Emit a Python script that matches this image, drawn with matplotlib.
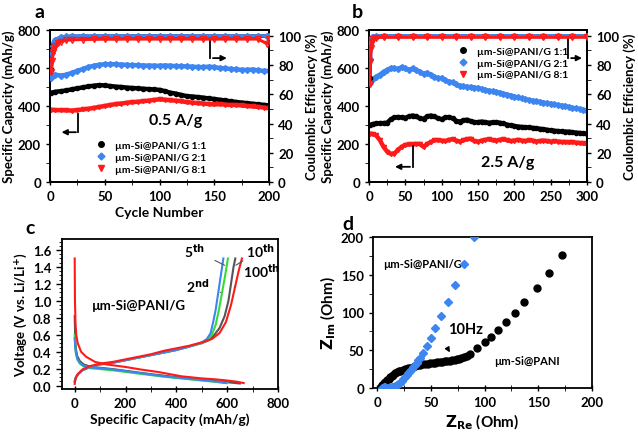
import matplotlib
matplotlib.use("Agg")
import matplotlib.pyplot as plt
from matplotlib.ticker import MultipleLocator
from matplotlib.lines import Line2D

plt.rcParams['font.family'] = ['Lato', 'DejaVu Sans']
plt.rcParams['font.weight'] = 'bold'
plt.rcParams['axes.labelweight'] = 'bold'
plt.rcParams['mathtext.default'] = 'bf'

BLACK = '#000000'
BLUE = '#3d85f0'
RED = '#ff1a1a'
GREEN = '#33dd33'
GRAY = '#555555'

# ---------------- Panel a data (0.5 A/g) ----------------
cycles_a = [1, 5, 10, 15, 20, 25, 30, 35, 40, 45, 50, 55, 60, 65, 70, 75, 80, 85, 90, 95, 100,
            105, 110, 115, 120, 125, 130, 135, 140, 145, 150, 155, 160, 165, 170, 175, 180, 185, 190, 195, 200]
cap_a_11 = [470, 475, 478, 482, 488, 493, 498, 503, 507, 510, 508, 505, 502, 500, 497, 495, 493, 491, 489, 487, 485,
            478, 470, 465, 458, 452, 450, 447, 444, 440, 437, 433, 429, 425, 421, 418, 415, 412, 409, 406, 403]
cap_a_21 = [560, 565, 560, 565, 575, 585, 595, 605, 612, 617, 620, 620, 620, 618, 617, 615, 615, 613, 613, 612, 612,
            613, 612, 610, 610, 608, 607, 605, 605, 607, 605, 600, 598, 595, 593, 590, 590, 592, 588, 585, 585]
cap_a_81 = [380, 378, 378, 377, 376, 378, 382, 385, 390, 395, 400, 405, 410, 413, 417, 420, 422, 425, 428, 432, 435,
            433, 430, 428, 425, 420, 418, 415, 413, 410, 408, 410, 407, 405, 405, 403, 400, 398, 395, 392, 388]
ce_cyc_a = [1, 2, 3, 4, 5, 7, 10, 15, 20, 30, 40, 50, 60, 70, 80, 90, 100, 110, 120, 130, 140, 150, 160, 170, 180, 190, 198, 200]
ce_a_11 = [77, 90, 94, 96, 97, 98, 99, 99.5, 99.6, 99.7, 99.7, 99.8, 99.8, 99.8, 99.8, 99.8, 99.8, 99.8, 99.8, 99.8, 99.8, 99.8, 99.8, 99.8, 99.8, 99.8, 99.8, 99.8]
ce_a_21 = [71, 88, 93, 96, 97, 98, 99, 99.6, 99.8, 99.9, 99.9, 99.9, 99.9, 99.9, 99.9, 99.9, 99.9, 99.9, 99.9, 99.9, 99.9, 99.9, 99.9, 99.9, 99.9, 99.9, 99.9, 99.9]
ce_a_81 = [75, 83, 89, 91, 93, 95, 96, 97, 97.3, 97.5, 97.6, 97.7, 97.7, 97.8, 97.8, 97.8, 97.8, 97.8, 97.8, 97.8, 97.8, 97.8, 97.8, 97.8, 97.8, 97.8, 94.7, 97.8]

# ---------------- Panel b data (2.5 A/g) ----------------
cycles_b = [1, 5, 10, 15, 20, 25, 30, 35, 40, 45, 50, 55, 60, 65, 70, 75, 80, 85, 90, 95, 100,
            105, 110, 115, 120, 125, 130, 135, 140, 145, 150, 155, 160, 165, 170, 175, 180, 185, 190, 195, 200,
            205, 210, 215, 220, 225, 230, 235, 240, 245, 250, 255, 260, 265, 270, 275, 280, 285, 290, 295, 300]
cap_b_11 = [300, 305, 308, 310, 310, 312, 330, 340, 342, 340, 338, 345, 350, 345, 335, 332, 345, 350, 345, 335, 330,
            340, 342, 335, 322, 318, 325, 328, 320, 315, 315, 318, 315, 312, 314, 315, 312, 308, 302, 298, 295,
            292, 290, 288, 287, 285, 283, 280, 278, 275, 272, 270, 268, 266, 265, 265, 262, 260, 258, 256, 255]
cap_b_21 = [520, 540, 555, 565, 580, 590, 600, 600, 595, 605, 598, 590, 598, 590, 580, 570, 575, 565, 555, 545, 548,
            535, 528, 525, 515, 505, 505, 500, 500, 497, 495, 490, 485, 480, 478, 475, 470, 465, 460, 455, 450,
            445, 440, 435, 432, 428, 425, 422, 418, 415, 412, 408, 405, 402, 400, 395, 390, 387, 384, 380, 376]
cap_b_81 = [255, 252, 245, 220, 185, 160, 148, 150, 170, 185, 195, 198, 198, 200, 200, 185, 200, 210, 220, 220, 218,
            215, 222, 225, 218, 212, 220, 225, 228, 215, 212, 218, 222, 225, 220, 218, 222, 225, 220, 215, 218,
            222, 218, 215, 220, 218, 213, 215, 218, 215, 212, 215, 213, 210, 210, 208, 210, 207, 205, 203, 200]
ce_cyc_b = [1, 2, 3, 4, 6, 10, 20, 40, 60, 80, 100, 120, 140, 160, 180, 200, 220, 240, 260, 280, 300]
ce_b_11 = [71, 92, 96, 98, 99, 99.5, 99.6, 99.7, 99.7, 99.7, 99.7, 99.7, 99.7, 99.7, 99.7, 99.7, 99.7, 99.7, 99.7, 99.7, 99.7]
ce_b_21 = [96, 84, 97, 99, 99.5, 100, 100, 100, 100, 100, 100, 100, 100, 100, 100, 100, 100, 100, 100, 100, 100]
ce_b_81 = [67, 82, 92, 96, 98, 98.8, 99, 99, 99, 99, 99, 99, 99, 99, 99, 99, 99, 99, 99, 99, 99]

# ---------------- Panel c data (voltage profiles) ----------------
dis_q_2 = [0, 2, 5, 10, 20, 35, 60, 100, 150, 200, 250, 300, 350, 400, 450, 500, 550, 595]
dis_v_2 = [0.56, 0.45, 0.38, 0.32, 0.27, 0.235, 0.215, 0.205, 0.19, 0.17, 0.15, 0.13, 0.11, 0.095, 0.08, 0.065, 0.05, 0.03]
chg_q_2 = [0, 5, 15, 30, 60, 100, 150, 200, 250, 300, 350, 400, 450, 500, 520, 535, 545, 555, 565, 575, 585]
chg_v_2 = [0.05, 0.1, 0.14, 0.18, 0.22, 0.25, 0.27, 0.3, 0.33, 0.36, 0.39, 0.42, 0.46, 0.51, 0.55, 0.62, 0.75, 0.9, 1.1, 1.3, 1.5]

dis_q_5 = [0, 2, 5, 10, 20, 35, 60, 100, 150, 200, 250, 300, 350, 400, 450, 500, 550, 600]
dis_v_5 = [0.6, 0.46, 0.38, 0.31, 0.26, 0.225, 0.205, 0.195, 0.18, 0.162, 0.142, 0.124, 0.105, 0.09, 0.075, 0.06, 0.045, 0.03]
chg_q_5 = [0, 5, 15, 30, 60, 100, 150, 200, 250, 300, 350, 400, 450, 500, 520, 540, 555, 568, 580, 592, 603]
chg_v_5 = [0.05, 0.1, 0.14, 0.18, 0.22, 0.25, 0.27, 0.3, 0.33, 0.36, 0.39, 0.42, 0.46, 0.505, 0.535, 0.6, 0.72, 0.9, 1.1, 1.3, 1.5]

dis_q_10 = [0, 2, 5, 10, 20, 35, 60, 100, 150, 200, 250, 300, 350, 400, 450, 500, 550, 600, 650]
dis_v_10 = [0.82, 0.55, 0.43, 0.35, 0.29, 0.25, 0.225, 0.21, 0.195, 0.175, 0.155, 0.135, 0.118, 0.1, 0.085, 0.07, 0.055, 0.04, 0.025]
chg_q_10 = [0, 5, 15, 30, 60, 100, 150, 200, 250, 300, 350, 400, 450, 500, 530, 550, 570, 590, 605, 615, 625, 632]
chg_v_10 = [0.05, 0.1, 0.14, 0.18, 0.22, 0.25, 0.27, 0.3, 0.33, 0.36, 0.39, 0.42, 0.46, 0.5, 0.54, 0.6, 0.68, 0.82, 1.0, 1.2, 1.4, 1.5]

dis_q_100 = [0, 1, 3, 6, 12, 25, 45, 80, 125, 200, 260, 330, 420, 500, 550, 600, 640, 665]
dis_v_100 = [1.5, 1.0, 0.75, 0.6, 0.5, 0.4, 0.34, 0.28, 0.25, 0.22, 0.19, 0.16, 0.11, 0.085, 0.075, 0.06, 0.045, 0.03]
chg_q_100 = [0, 3, 10, 30, 60, 100, 150, 200, 250, 300, 350, 400, 450, 500, 540, 570, 595, 615, 630, 645, 658]
chg_v_100 = [0.02, 0.08, 0.13, 0.19, 0.23, 0.26, 0.28, 0.31, 0.34, 0.37, 0.41, 0.44, 0.47, 0.51, 0.55, 0.62, 0.75, 0.95, 1.15, 1.35, 1.5]

# ---------------- Panel d data (Nyquist) ----------------
zre_pani = [3.4, 4.5, 6, 7.5, 9, 10.5, 12, 13.5, 15, 16.6, 18.2, 19.8, 21.3, 23.5, 25.9, 28.2, 30.6, 33, 35, 37.5,
            39.8, 42, 44.4, 46.8, 49, 51.5, 53.7, 56, 58.3, 60.7, 63, 65.3, 67.6, 70, 72, 74, 76, 78, 80.5, 83.5,
            86.7, 93, 100, 105.5, 112.3, 120, 128.4, 136.4, 148.8, 160.2, 172.5]
zim_pani = [1, 3.5, 6, 8.3, 10.6, 12.4, 14, 15.9, 17.7, 19.3, 20.8, 22, 23, 24, 25, 26, 27, 28.3, 29.6, 30,
            30.5, 31.2, 31.8, 32.2, 32.7, 33.1, 33.5, 34, 34.4, 34.8, 35.3, 35.7, 36.2, 36.8, 37.5, 38.1, 38.8, 40, 41.5, 43,
            45, 53.4, 60.5, 67, 76.8, 87, 100, 113.5, 132, 152.3, 176]
zre_panig = [4, 5, 6, 7.5, 9, 10.5, 12, 13.5, 15, 16.5, 18.2, 19.7, 21.3, 22.8, 24.4, 26, 27.5, 29, 30.6, 32,
             33.6, 35.2, 36.7, 38.2, 39.8, 42.9, 46, 49.7, 54, 59, 65.7, 72.8, 80.6, 90.4]
zim_panig = [0, 0.5, 1, 0.8, 0.5, 0.6, 1, 1.3, 1.8, 2.5, 3.5, 5, 7, 9.5, 12, 15, 17.7, 20.3, 23, 25.5,
             28, 30.8, 33.6, 36.5, 39.7, 46.8, 55.6, 66, 79.5, 95, 113.5, 137, 164, 199.6]

legend_labels = ['\u00b5m-Si@PANI/G 1:1', '\u00b5m-Si@PANI/G 2:1', '\u00b5m-Si@PANI/G 8:1']

fig = plt.figure(figsize=(6.38, 4.39), dpi=100)

TICK = 9.5
LAB = 9.5


def style_axes(ax):
    for s in ax.spines.values():
        s.set_linewidth(1.3)
    ax.tick_params(labelsize=TICK, width=1.0)
    for lbl in ax.get_xticklabels() + ax.get_yticklabels():
        lbl.set_fontweight('bold')


def cycling_panel(ax, cyc, c11, c21, c81, ce_cyc, e11, e21, e81, xmax, xmaj, xmin):
    ax2 = ax.twinx()
    ax.plot(cyc, c11, color=BLACK, lw=3.2, marker='o', ms=3, zorder=3)
    ax.plot(cyc, c21, color=BLUE, lw=3.2, marker='D', ms=3, zorder=3)
    ax.plot(cyc, c81, color=RED, lw=3.2, marker='v', ms=3, zorder=3)
    ax2.plot(ce_cyc, e11, color=BLACK, lw=2.5, marker='o', ms=3, zorder=3)
    ax2.plot(ce_cyc, e21, color=BLUE, lw=2.5, marker='D', ms=3, zorder=3)
    ax2.plot(ce_cyc, e81, color=RED, lw=2.2, marker='v', ms=4, mfc='none', mew=1.0, zorder=3)
    ax.set_xlim(0, xmax)
    ax.set_ylim(0, 800)
    ax2.set_ylim(0, 104)
    ax.xaxis.set_major_locator(MultipleLocator(xmaj))
    ax.xaxis.set_minor_locator(MultipleLocator(xmin))
    ax.yaxis.set_major_locator(MultipleLocator(200))
    ax.yaxis.set_minor_locator(MultipleLocator(100))
    ax2.yaxis.set_major_locator(MultipleLocator(20))
    ax2.yaxis.set_minor_locator(MultipleLocator(10))
    ax.tick_params(axis='x', which='both', direction='inout', length=4)
    ax.tick_params(axis='y', which='both', direction='out', length=3)
    ax2.tick_params(axis='y', which='both', direction='out', length=3)
    ax.set_ylabel('Specific Capacity (mAh/g)', fontsize=LAB, labelpad=2)
    ax2.set_ylabel('Coulombic Efficiency (%)', fontsize=LAB, labelpad=3)
    style_axes(ax)
    style_axes(ax2)
    return ax2


def bracket_arrow(ax, x_v, y_top, y_bot, x_tip):
    ax.plot([x_v, x_v], [y_top, y_bot], color='black', lw=1.3, zorder=5)
    ax.annotate('', xy=(x_tip, y_bot), xytext=(x_v + 0.3, y_bot),
                arrowprops=dict(arrowstyle='-|>', color='black', lw=1.3, mutation_scale=8), zorder=5)


def cap_legend(ax, anchor):
    handles = [Line2D([], [], ls='none', marker='o', color=BLACK, ms=4),
               Line2D([], [], ls='none', marker='D', color=BLUE, ms=3.5),
               Line2D([], [], ls='none', marker='v', color=RED, ms=4.5)]
    ax.legend(handles, legend_labels, loc='upper left', bbox_to_anchor=anchor, frameon=False,
              prop={'family': ['Lato', 'DejaVu Sans'], 'weight': 'bold', 'size': 7.5},
              handlelength=1.0, handletextpad=0.8, labelspacing=0.25, borderaxespad=0)


# ---- a ----
axa = fig.add_axes([50 / 638, 1 - 183 / 439, 219 / 638, 152 / 439])
axa2 = cycling_panel(axa, cycles_a, cap_a_11, cap_a_21, cap_a_81, ce_cyc_a, ce_a_11, ce_a_21, ce_a_81, 200, 50, 25)
axa.set_xlabel('Cycle Number', fontsize=LAB + 0.5, labelpad=3)
axa.text(90, 325, '0.5 A/g', fontsize=11.5, fontweight='bold', ha='left', va='center', zorder=6)
bracket_arrow(axa, 26, 360, 262, 8)
bracket_arrow(axa, 146, 770, 652, 164)
cap_legend(axa, (0.19, 0.30))

# ---- b ----
axb = fig.add_axes([369 / 638, 1 - 183 / 439, 218 / 638, 152 / 439])
axb2 = cycling_panel(axb, cycles_b, cap_b_11, cap_b_21, cap_b_81, ce_cyc_b, ce_b_11, ce_b_21, ce_b_81, 300, 50, 25)
axb.text(154, 106, '2.5 A/g', fontsize=11.5, fontweight='bold', ha='left', va='center', zorder=6)
bracket_arrow(axb, 60, 190, 80, 32)
bracket_arrow(axb, 274, 755, 652, 297)
cap_legend(axb, (0.39, 0.92))

# ---- c ----
axc = fig.add_axes([62 / 638, 1 - 390 / 439, 216 / 638, 150 / 439])
for dq, dv, cq, cv, col in [(dis_q_10, dis_v_10, chg_q_10, chg_v_10, GRAY),
                            (dis_q_5, dis_v_5, chg_q_5, chg_v_5, GREEN),
                            (dis_q_2, dis_v_2, chg_q_2, chg_v_2, BLUE),
                            (dis_q_100, dis_v_100, chg_q_100, chg_v_100, RED)]:
    axc.plot(dq, dv, color=col, lw=1.5)
    axc.plot(cq, cv, color=col, lw=1.5)
axc.set_xlim(-50, 800)
axc.set_ylim(-0.04, 1.73)
axc.xaxis.set_major_locator(MultipleLocator(200))
axc.xaxis.set_minor_locator(MultipleLocator(100))
axc.yaxis.set_major_locator(MultipleLocator(0.2))
axc.yaxis.set_minor_locator(MultipleLocator(0.05))
axc.yaxis.set_major_formatter(matplotlib.ticker.FormatStrFormatter('%.1f'))
axc.tick_params(axis='x', which='both', direction='inout', length=4)
axc.tick_params(axis='y', which='major', direction='out', length=4)
axc.tick_params(axis='y', which='minor', direction='out', length=2)
axc.set_xlabel('Specific Capacity (mAh/g)', fontsize=LAB + 0.5, labelpad=3)
axc.set_ylabel('Voltage (V vs. Li/Li$^{+}$)', fontsize=LAB, labelpad=3)
axc.text(67, 0.95, '\u00b5m-Si@PANI/G', fontsize=9.5, fontweight='bold', ha='left', va='center')
for txt, tx, ty, lx, ly in [('5$^{th}$', 470, 1.6, 590, 1.42),
                            ('2$^{nd}$', 485, 1.19, 574, 1.1),
                            ('10$^{th}$', 730, 1.6, 634, 1.42),
                            ('100$^{th}$', 735, 1.36, 628, 1.16)]:
    axc.annotate(txt, xy=(lx, ly), xytext=(tx, ty), fontsize=10, fontweight='bold', ha='center', va='center',
                 arrowprops=dict(arrowstyle='-', color=GRAY, lw=0.8, shrinkA=6, shrinkB=0))
style_axes(axc)

# ---- d ----
axd = fig.add_axes([373 / 638, 1 - 389 / 439, 219 / 638, 151 / 439])
axd.plot(zre_pani, zim_pani, ls='none', marker='o', color=BLACK, ms=5, zorder=3)
axd.plot(zre_panig, zim_panig, ls='none', marker='D', color=BLUE, ms=4.5, zorder=4)
axd.set_xlim(-4, 200)
axd.set_ylim(0, 200)
axd.xaxis.set_major_locator(MultipleLocator(50))
axd.xaxis.set_minor_locator(MultipleLocator(25))
axd.yaxis.set_major_locator(MultipleLocator(50))
axd.yaxis.set_minor_locator(MultipleLocator(25))
axd.tick_params(axis='x', which='both', direction='inout', length=4)
axd.tick_params(axis='y', which='both', direction='out', length=3)
axd.set_xlabel(r'$\mathbf{Z_{Re}}$ (Ohm)', fontsize=LAB + 1.5, labelpad=3)
axd.set_ylabel(r'$\mathbf{Z_{Im}}$ (Ohm)', fontsize=LAB + 1.5, labelpad=2)
axd.text(5, 165, '\u00b5m-Si@PANI/G', fontsize=8, fontweight='bold', ha='left', va='center')
axd.text(66, 78, '10Hz', fontsize=10.5, fontweight='bold', ha='left', va='center')
axd.text(109, 37, '\u00b5m-Si@PANI', fontsize=8, fontweight='bold', ha='left', va='center')
axd.annotate('', xy=(69, 44), xytext=(64, 56),
             arrowprops=dict(arrowstyle='-|>', color='black', lw=1.0, mutation_scale=7))
style_axes(axd)

# panel letters
for letter, px, py in [('a', 40, 12), ('b', 357, 12), ('c', 30, 228), ('d', 348, 225)]:
    fig.text(px / 638, 1 - py / 439, letter, fontsize=14, fontweight='bold', ha='center', va='center')

fig.savefig('out.png', dpi=100)
